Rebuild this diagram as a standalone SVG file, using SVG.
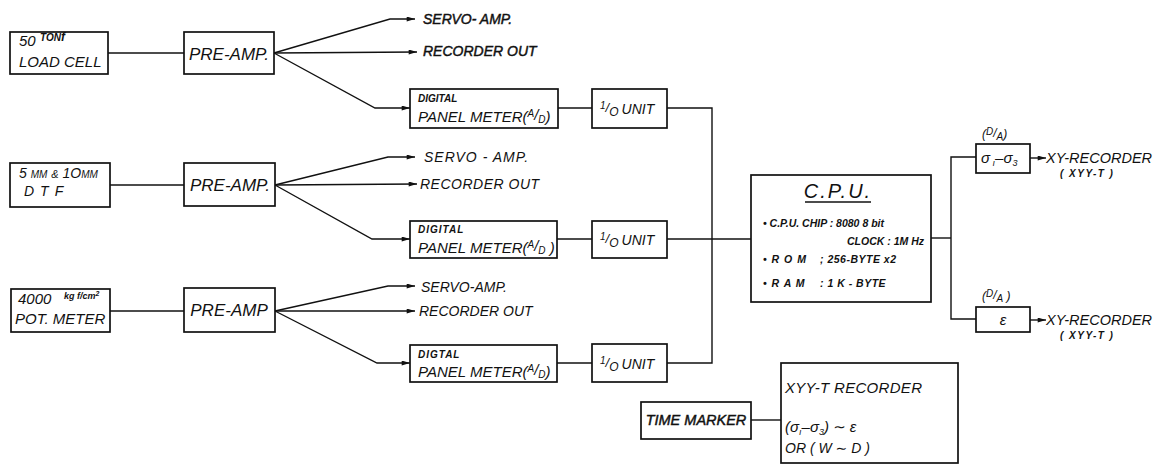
<svg xmlns="http://www.w3.org/2000/svg" width="1167" height="466" viewBox="0 0 1167 466">
<defs>
<style>
.box{fill:#fff;stroke:#111;stroke-width:1.7}
.ln{fill:none;stroke:#111;stroke-width:1.4}
text{font-family:"Liberation Sans",Arial,"DejaVu Sans",sans-serif;font-style:italic;fill:#111}
.lbl{font-size:14px}
.hv{stroke:#111;stroke-width:0.45}
.pa{font-size:17px}
.sm{font-size:10px;font-weight:bold}
.pm{font-size:15px}
.cpu{font-size:10.5px;font-weight:bold}
.io{font-size:14px}
</style>
<marker id="ah" viewBox="0 0 10 6" refX="10" refY="3" markerWidth="9" markerHeight="5" markerUnits="userSpaceOnUse" orient="auto"><path d="M0,0 L10,3 L0,6 Z" fill="#111"/></marker>
</defs>
<rect width="1167" height="466" fill="#fff"/>

<g id="connectors">
<path class="ln" d="M108,53 H184"/>
<path class="ln" d="M274,53 L390,19 H415" marker-end="url(#ah)"/>
<path class="ln" d="M274,53 L417,52" marker-end="url(#ah)"/>
<path class="ln" d="M274,53 L375,108 H410" marker-end="url(#ah)"/>
<path class="ln" d="M558,108 H592"/>
<path class="ln" d="M110,185 H184"/>
<path class="ln" d="M275,185 L388,157 H415" marker-end="url(#ah)"/>
<path class="ln" d="M275,185 L417,184" marker-end="url(#ah)"/>
<path class="ln" d="M275,185 L372,239 H410" marker-end="url(#ah)"/>
<path class="ln" d="M557,239 H592"/>
<path class="ln" d="M110,311 H184"/>
<path class="ln" d="M275,311 L388,286 H415" marker-end="url(#ah)"/>
<path class="ln" d="M275,311 H415" marker-end="url(#ah)"/>
<path class="ln" d="M275,311 L377,363 H410" marker-end="url(#ah)"/>
<path class="ln" d="M557,363 H592"/>
<path class="ln" d="M667,108 H712 V363 H667"/>
<path class="ln" d="M667,239 H751"/>
<path class="ln" d="M931,238 H951"/>
<path class="ln" d="M976,157 H951 V319 H976"/>
<path class="ln" d="M1030,158 H1046" marker-end="url(#ah)"/>
<path class="ln" d="M1030,320 H1046" marker-end="url(#ah)"/>
<path class="ln" d="M751,420 H781"/>
</g>

<g id="loadcell">
<rect class="box" x="10" y="32" width="98" height="42"/>
<text x="19" y="46" font-size="15">50</text>
<text x="40" y="41" font-size="10" font-weight="bold">TON<tspan font-size="12">f</tspan></text>
<text x="19" y="67" font-size="15">LOAD CELL</text>
</g>
<g id="preamp1">
<rect class="box" x="184" y="32" width="90" height="42"/>
<text x="229" y="60" class="pa" text-anchor="middle">PRE-AMP.</text>
</g>
<g id="labels1">
<text x="423" y="24" class="lbl hv">SERVO- AMP.</text>
<text x="423" y="56" class="lbl hv">RECORDER  OUT</text>
</g>
<g id="dpm1">
<rect class="box" x="410" y="89" width="148" height="39"/>
<text x="418" y="102" class="sm">DIGITAL</text>
<text x="418" y="122" class="pm">PANEL METER(<tspan font-size="10" dy="-5">A</tspan><tspan dy="3">/</tspan><tspan font-size="10" dy="3">D</tspan><tspan dy="-1">)</tspan></text>
</g>
<g id="io1">
<rect class="box" x="592" y="89" width="75" height="39"/>
<text x="600" y="114" class="io"><tspan font-size="10" dy="-5">1</tspan><tspan dy="3" font-size="13">/</tspan><tspan dy="4" font-size="12">O</tspan><tspan dx="3" dy="-2">UNIT</tspan></text>
</g>

<g id="dtf">
<rect class="box" x="10" y="163" width="100" height="44"/>
<text x="19" y="178" font-size="14">5 <tspan font-size="10">MM</tspan> <tspan font-size="11">&amp;</tspan> 1O<tspan font-size="10">MM</tspan></text>
<text x="24" y="196" font-size="14" letter-spacing="6">DTF</text>
</g>
<g id="preamp2">
<rect class="box" x="184" y="163" width="91" height="43"/>
<text x="230" y="191" class="pa" text-anchor="middle">PRE-AMP.</text>
</g>
<g id="labels2">
<text x="424" y="162" class="lbl" letter-spacing="1">SERVO - AMP.</text>
<text x="420" y="189" class="lbl" letter-spacing="0.5">RECORDER  OUT</text>
</g>
<g id="dpm2">
<rect class="box" x="410" y="221" width="147" height="37"/>
<text x="418" y="233" class="sm" letter-spacing="1">DIGITAL</text>
<text x="418" y="253" class="pm">PANEL METER(<tspan font-size="10" dy="-5">A</tspan><tspan dy="3">/</tspan><tspan font-size="10" dy="3">D</tspan><tspan dy="-1"> )</tspan></text>
</g>
<g id="io2">
<rect class="box" x="592" y="221" width="75" height="37"/>
<text x="600" y="245" class="io"><tspan font-size="10" dy="-5">1</tspan><tspan dy="3" font-size="13">/</tspan><tspan dy="4" font-size="12">O</tspan><tspan dx="3" dy="-2">UNIT</tspan></text>
</g>

<g id="potmeter">
<rect class="box" x="11" y="289" width="99" height="43"/>
<text x="18" y="304" font-size="15">4000</text>
<text x="64" y="299" font-size="9" font-weight="bold">kg f/cm<tspan font-size="7" dy="-3">2</tspan></text>
<text x="15" y="324" font-size="15">POT. METER</text>
</g>
<g id="preamp3">
<rect class="box" x="184" y="288" width="91" height="44"/>
<text x="229" y="316" class="pa" text-anchor="middle">PRE-AMP</text>
</g>
<g id="labels3">
<text x="421" y="292" class="lbl">SERVO-AMP.</text>
<text x="419" y="316" class="lbl">RECORDER OUT</text>
</g>
<g id="dpm3">
<rect class="box" x="410" y="345" width="147" height="37"/>
<text x="418" y="358" class="sm" letter-spacing="1">DIGTAL</text>
<text x="418" y="377" class="pm">PANEL METER(<tspan font-size="10" dy="-5">A</tspan><tspan dy="3">/</tspan><tspan font-size="10" dy="3">D</tspan><tspan dy="-1">)</tspan></text>
</g>
<g id="io3">
<rect class="box" x="592" y="344" width="75" height="38"/>
<text x="600" y="369" class="io"><tspan font-size="10" dy="-5">1</tspan><tspan dy="3" font-size="13">/</tspan><tspan dy="4" font-size="12">O</tspan><tspan dx="3" dy="-2">UNIT</tspan></text>
</g>

<g id="cpu">
<rect class="box" x="751" y="175" width="180" height="127"/>
<text x="838" y="198" font-size="20" text-anchor="middle" letter-spacing="2">C.P.U.</text>
<path class="ln" d="M805,202 H871"/>
<text x="763" y="227" class="cpu">• C.P.U. CHIP : 8080  8 bit</text>
<text x="924" y="245" class="cpu" text-anchor="end">CLOCK : 1M Hz</text>
<text x="763" y="263" class="cpu" letter-spacing="1">• R O M</text>
<text x="820" y="263" class="cpu" font-size="12" letter-spacing="0.5">; 256-BYTE x2</text>
<text x="763" y="287" class="cpu" letter-spacing="1">• R A M</text>
<text x="820" y="287" class="cpu" font-size="12" letter-spacing="0.5">:  1  K - BYTE</text>
</g>

<g id="da1">
<text x="982" y="138" font-size="12">(<tspan font-size="10" dy="-3">D</tspan><tspan dy="2">/</tspan><tspan font-size="10" dy="3">A</tspan><tspan dy="-2">)</tspan></text>
<rect class="box" x="976" y="144" width="54" height="29"/>
<text x="981" y="163" font-size="15">σ<tspan font-size="9" dy="3"> ı</tspan><tspan dy="-3">–σ</tspan><tspan font-size="9" dy="3">3</tspan></text>
<text x="1046" y="163" font-size="14.5">XY-RECORDER</text>
<text x="1060" y="177" font-size="10" font-weight="bold" letter-spacing="1.5">( XYY-T )</text>
</g>
<g id="da2">
<text x="982" y="300" font-size="12">(<tspan font-size="10" dy="-3">D</tspan><tspan dy="2">/</tspan><tspan font-size="10" dy="3">A</tspan><tspan dy="-2"> )</tspan></text>
<rect class="box" x="976" y="307" width="54" height="25"/>
<text x="1003" y="325" font-size="15" text-anchor="middle">ε</text>
<text x="1046" y="325" font-size="14.5">XY-RECORDER</text>
<text x="1060" y="339" font-size="10" font-weight="bold" letter-spacing="1.5">( XYY-T )</text>
</g>

<g id="timemarker">
<rect class="box" x="641" y="402" width="110" height="37"/>
<text x="696" y="425" font-size="14.5" class="hv" text-anchor="middle">TIME MARKER</text>
</g>
<g id="xyyt">
<rect class="box" x="781" y="363" width="177" height="100"/>
<text x="785" y="393" font-size="15" letter-spacing="0.3">XYY-T  RECORDER</text>
<text x="785" y="432" font-size="15">(σ<tspan font-size="9" dy="3">ı</tspan><tspan dy="-3">–σ</tspan><tspan font-size="9" dy="3">3</tspan><tspan dy="-3">) ∼ ε</tspan></text>
<text x="785" y="453" font-size="14">OR ( W ∼ D )</text>
</g>
</svg>
